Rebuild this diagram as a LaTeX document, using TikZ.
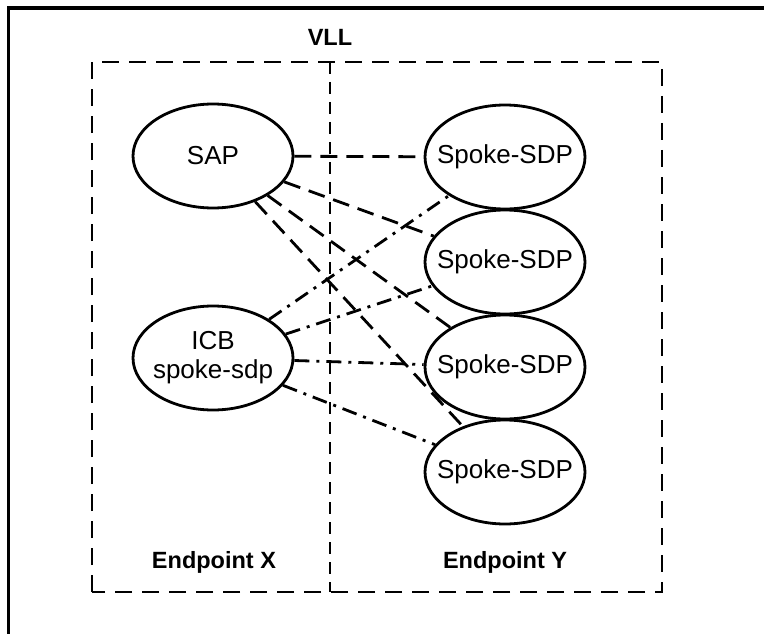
\documentclass[tikz,border=0pt]{standalone}
\usepackage{fontspec}
\setmainfont{Liberation Sans}
\usetikzlibrary{shapes.geometric}
\begin{document}
\begin{tikzpicture}[x=1pt,y=-1pt,
  ell/.style={draw, ellipse, line width=2.8pt, minimum width=160pt, minimum height=104pt, inner xsep=-25pt, inner ysep=0pt, align=center, font=\fontsize{26}{29}\selectfont},
  lbl/.style={anchor=base, inner sep=0pt, font=\fontsize{23.5}{26}\selectfont\bfseries},
  dconn/.style={line width=2.8pt, dash pattern=on 17pt off 9pt},
  ddconn/.style={line width=2.8pt, dash pattern=on 15pt off 7pt on 3pt off 7pt},
  boxline/.style={line width=1.6pt, dash pattern=on 17pt off 10pt},
  divline/.style={line width=1.3pt, dash pattern=on 12pt off 8pt}]
\useasboundingbox (0,0) rectangle (764,634);
% outer frame (top and left only)
\draw[line width=3.2pt] (8.5,634) -- (8.5,8) -- (764,8);
% dashed box and divider
\coordinate (bl) at (92,592);
\coordinate (tr) at (662,62);
\draw[boxline] (bl) rectangle (tr);
\coordinate (dtop) at (330,62);
\coordinate (dbot) at (330,592);
\draw[divline] (dtop) -- (dbot);
% labels
\node[lbl] (vll) at (330,46) {VLL};
\node[lbl] (epx) at (214,568) {Endpoint X};
\node[lbl] (epy) at (505,568) {Endpoint Y};
% nodes
\node[ell] (sap) at (213,156) {SAP};
\node[ell] (icb) at (213,358) {ICB\\spoke-sdp};
\node[ell] (s1) at (505,157) {Spoke-SDP};
\node[ell] (s2) at (505,262) {Spoke-SDP};
\node[ell] (s3) at (505,367) {Spoke-SDP};
\node[ell] (s4) at (505,472) {Spoke-SDP};
% connectors
\draw[dconn] (sap) -- (s1);
\draw[dconn] (sap) -- (s2);
\draw[dconn] (sap) -- (s3);
\draw[dconn] (sap) -- (s4);
\draw[ddconn] (icb) -- (s1);
\draw[ddconn] (icb) -- (s2);
\draw[ddconn] (icb) -- (s3);
\draw[ddconn] (icb) -- (s4);
\end{tikzpicture}
\end{document}
